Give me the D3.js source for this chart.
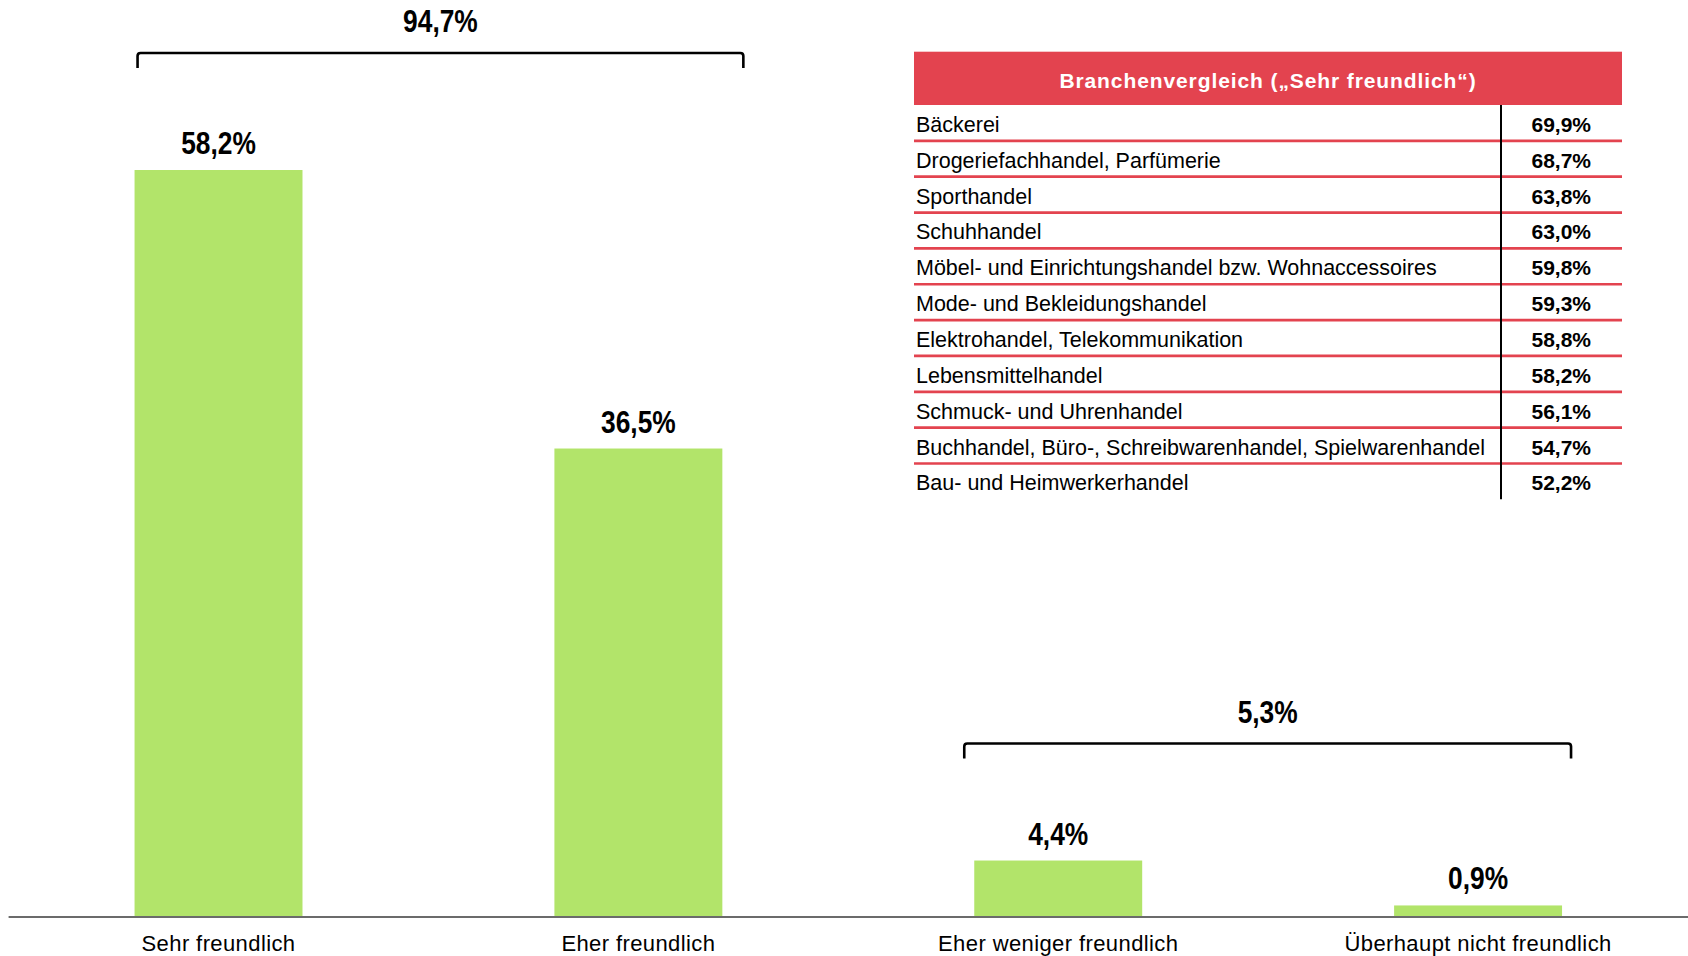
<!DOCTYPE html>
<html>
<head>
<meta charset="utf-8">
<script src="https://cdn.jsdelivr.net/npm/d3@7"></script>
<style>
  html, body { margin: 0; padding: 0; background: #fff; }
  svg { display: block; font-family: "Liberation Sans", Arial, sans-serif; }
</style>
</head>
<body>
<div id="chart"></div>
<script>
// categories and shares
const categories = ["Sehr freundlich", "Eher freundlich", "Eher weniger freundlich", "Überhaupt nicht freundlich"];
const values = [58.2, 36.5, 4.4, 0.9];

// summed groups shown with the brackets
const groupMembers = [[0, 1], [2, 3]];
const groupLabels = ["94,7%", "5,3%"];

// Branchenvergleich table
const tableTitle = "Branchenvergleich („Sehr freundlich“)";
const branchen = [
  "Bäckerei",
  "Drogeriefachhandel, Parfümerie",
  "Sporthandel",
  "Schuhhandel",
  "Möbel- und Einrichtungshandel bzw. Wohnaccessoires",
  "Mode- und Bekleidungshandel",
  "Elektrohandel, Telekommunikation",
  "Lebensmittelhandel",
  "Schmuck- und Uhrenhandel",
  "Buchhandel, Büro-, Schreibwarenhandel, Spielwarenhandel",
  "Bau- und Heimwerkerhandel"
];
const branchenValues = [69.9, 68.7, 63.8, 63.0, 59.8, 59.3, 58.8, 58.2, 56.1, 54.7, 52.2];

const W = 1688, H = 956;
const fmt = v => v.toFixed(1).replace(".", ",") + "%";

const svg = d3.select("#chart").append("svg")
  .attr("width", W)
  .attr("height", H);

const x = d3.scaleBand()
  .domain(categories)
  .range([8.6, W])
  .paddingInner(0.6)
  .paddingOuter(0.3);

const y = d3.scaleLinear()
  .domain([0, 58.2])
  .range([917, 170]);

// bars
svg.append("g")
  .selectAll("rect")
  .data(values)
  .enter().append("rect")
    .attr("x", (d, i) => x(categories[i]))
    .attr("y", d => y(d))
    .attr("width", x.bandwidth())
    .attr("height", d => y(0) - y(d))
    .attr("fill", "#b2e46a");

// baseline
svg.append("line")
  .attr("x1", 8.6).attr("x2", W)
  .attr("y1", y(0)).attr("y2", y(0))
  .attr("stroke", "#6b6b6b")
  .attr("stroke-width", 2);

// narrow bold label (no condensed font installed, so squeeze horizontally)
function bigLabel(sel, cx, cy, txt) {
  sel.append("text")
    .attr("transform", `translate(${cx},${cy}) scale(0.85,1)`)
    .attr("text-anchor", "middle")
    .style("font-weight", "bold")
    .style("font-size", "31px")
    .attr("fill", "#000")
    .text(txt);
}

// value labels
const vl = svg.append("g");
values.forEach((d, i) => {
  bigLabel(vl, x(categories[i]) + x.bandwidth() / 2, y(d) - 16, fmt(d));
});

// category labels
svg.append("g")
  .selectAll("text")
  .data(categories)
  .enter().append("text")
    .attr("x", d => x(d) + x.bandwidth() / 2)
    .attr("y", 951)
    .attr("text-anchor", "middle")
    .style("font-size", "22px")
    .style("letter-spacing", "0.4px")
    .attr("fill", "#000")
    .text(d => d);

// brackets over the groups
const bracketPad = [[3, 21], [-10, 9]];
groupMembers.forEach((m, gi) => {
  const x0 = x(categories[m[0]]) + bracketPad[gi][0];
  const x1 = x(categories[m[m.length - 1]]) + x.bandwidth() + bracketPad[gi][1];
  const yb = y(d3.max(m, i => values[i])) - 117;
  const r = 3;
  svg.append("path")
    .attr("d", `M${x0},${yb + 15} L${x0},${yb + r} Q${x0},${yb} ${x0 + r},${yb} L${x1 - r},${yb} Q${x1},${yb} ${x1},${yb + r} L${x1},${yb + 15}`)
    .attr("fill", "none")
    .attr("stroke", "#000")
    .attr("stroke-width", 2.6);
  bigLabel(svg, (x0 + x1) / 2, yb - 21, groupLabels[gi]);
});

// table
const tX0 = 914, tX1 = 1622, tY0 = 51.7, headH = 53.3, rowH = 35.85, divX = 1501;
const red = "#e3434f";
const table = svg.append("g");

table.append("rect")
  .attr("x", tX0).attr("y", tY0)
  .attr("width", tX1 - tX0).attr("height", headH)
  .attr("fill", red);

table.append("text")
  .attr("x", (tX0 + tX1) / 2)
  .attr("y", tY0 + headH / 2 + 10)
  .attr("text-anchor", "middle")
  .attr("fill", "#fff")
  .style("font-weight", "bold")
  .style("font-size", "21px")
  .style("letter-spacing", "0.9px")
  .text(tableTitle);

const rowY = i => tY0 + headH + i * rowH;

table.selectAll(".sep")
  .data(branchen.slice(0, -1))
  .enter().append("line")
    .attr("class", "sep")
    .attr("x1", tX0).attr("x2", tX1)
    .attr("y1", (d, i) => rowY(i + 1))
    .attr("y2", (d, i) => rowY(i + 1))
    .attr("stroke", red)
    .attr("stroke-width", 2.7);

table.append("line")
  .attr("x1", divX).attr("x2", divX)
  .attr("y1", tY0 + headH).attr("y2", rowY(branchen.length) + 0)
  .attr("stroke", "#000")
  .attr("stroke-width", 2);

table.selectAll(".bname")
  .data(branchen)
  .enter().append("text")
    .attr("class", "bname")
    .attr("x", tX0 + 2)
    .attr("y", (d, i) => rowY(i) + rowH / 2 + 9)
    .style("font-size", "21.5px")
    .attr("fill", "#000")
    .text(d => d);

table.selectAll(".bval")
  .data(branchenValues)
  .enter().append("text")
    .attr("class", "bval")
    .attr("x", 1591)
    .attr("y", (d, i) => rowY(i) + rowH / 2 + 9)
    .attr("text-anchor", "end")
    .style("font-size", "21px")
    .style("font-weight", "bold")
    .attr("fill", "#000")
    .text(d => fmt(d));
</script>
</body>
</html>
